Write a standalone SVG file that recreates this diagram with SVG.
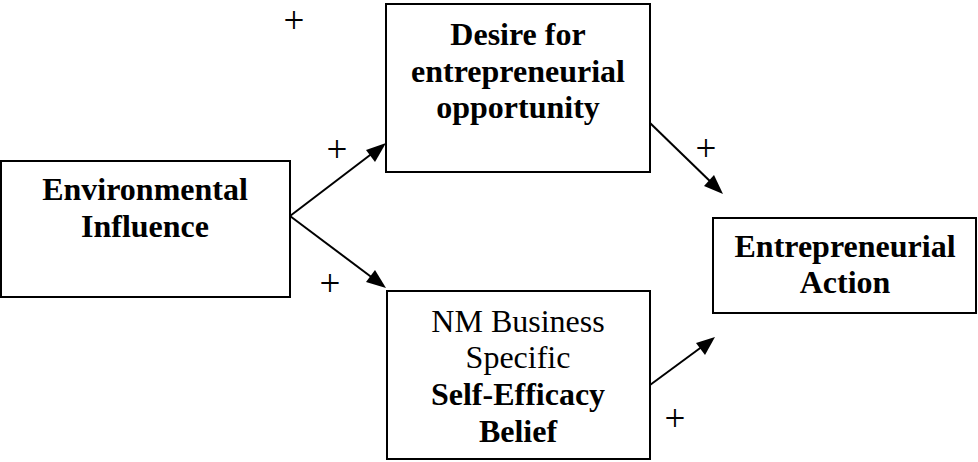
<svg xmlns="http://www.w3.org/2000/svg" width="978" height="462" viewBox="0 0 978 462">
<style>
.box{fill:#fff;stroke:#000;stroke-width:2}
.t{font-family:"Liberation Serif","Times New Roman",serif;font-size:32px;text-anchor:middle;fill:#000}
.b{font-weight:bold}
.p{font-family:"Liberation Serif","Times New Roman",serif;font-size:37px;text-anchor:middle;fill:#000}
.c{stroke:#000;stroke-width:2;fill:none}
</style>
<rect width="978" height="462" fill="#fff"/>
<g id="connectors">
<path class="c" d="M290,216 L378,149"/>
<polygon points="386,143 366,150 375,162" fill="#000"/>
<path class="c" d="M290,216 L378,282"/>
<polygon points="386,288 366,282 375,270" fill="#000"/>
<path class="c" d="M650,123 L716,187"/>
<polygon points="723,194 704,186 714,175" fill="#000"/>
<path class="c" d="M650,385 L707,343"/>
<polygon points="715,337 705,355 696,343" fill="#000"/>
</g>
<g id="env">
<rect class="box" x="1" y="161" width="289" height="136"/>
<text class="t b" x="145" y="200">Environmental</text>
<text class="t b" x="145" y="237">Influence</text>
</g>
<g id="desire">
<rect class="box" x="386" y="4" width="264" height="168"/>
<text class="t b" x="518" y="45">Desire for</text>
<text class="t b" x="518" y="82">entrepreneurial</text>
<text class="t b" x="518" y="118">opportunity</text>
</g>
<g id="nm">
<rect class="box" x="387" y="291" width="263" height="168"/>
<text class="t" x="518" y="332">NM Business</text>
<text class="t" x="518" y="368">Specific</text>
<text class="t b" x="518" y="405">Self-Efficacy</text>
<text class="t b" x="518" y="442">Belief</text>
</g>
<g id="action">
<rect class="box" x="713" y="218" width="263" height="95"/>
<text class="t b" x="845" y="257">Entrepreneurial</text>
<text class="t b" x="845" y="293">Action</text>
</g>
<g id="labels">
<text class="p" x="294" y="33">+</text>
<text class="p" x="337" y="162">+</text>
<text class="p" x="330" y="296">+</text>
<text class="p" x="706" y="161">+</text>
<text class="p" x="675" y="431">+</text>
</g>
</svg>
